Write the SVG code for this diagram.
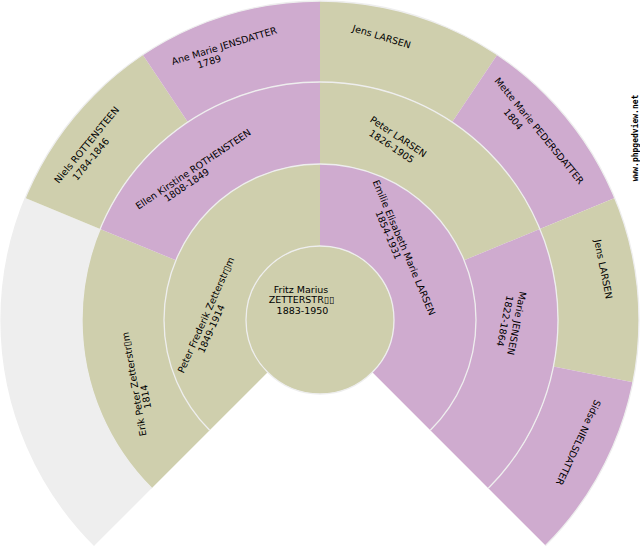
<svg xmlns="http://www.w3.org/2000/svg" width="640" height="550" viewBox="0 0 640 550">
<style>
.m{fill:#CFCFAD}
.f{fill:#CFABCF}
.u{fill:#EEEEEE}
.sep{fill:none;stroke:#EEEEEE;stroke-width:1.3}
text{font-family:"DejaVu Sans","Liberation Sans",sans-serif;font-size:9.5px;fill:#000;text-anchor:middle}
.wm{font-family:"DejaVu Sans Mono","Liberation Mono",monospace;font-size:8px;font-weight:bold}
</style>
<rect width="640" height="550" fill="#FFFFFF"/>
<g id="gen3">
<g id="unknown-8-9"><path class="u" d="M94.43 545.57 A319 319 0 0 1 25.28 197.93 L100.12 228.92 A238 238 0 0 0 151.71 488.29 Z"/></g>
<g id="niels"><path class="m" d="M25.28 197.93 A319 319 0 0 1 142.77 54.76 L187.77 122.11 A238 238 0 0 0 100.12 228.92 Z"/>
<text transform="translate(86.7 145) rotate(-50.6)" y="3.3">Niels ROTTENSTEEN</text>
<text transform="translate(90.8 159.2) rotate(-50.6)" y="3.3">1784-1846</text></g>
<g id="ane-marie"><path class="f" d="M142.77 54.76 A319 319 0 0 1 320 1 L320 82 A238 238 0 0 0 187.77 122.11 Z"/>
<text transform="translate(224.2 45.8) rotate(-16.9)" y="3.3">Ane Marie JENSDATTER</text>
<text transform="translate(209.2 61.7) rotate(-16.9)" y="3.3">1789</text></g>
<g id="jens-1"><path class="m" d="M320 1 A319 319 0 0 1 497.23 54.76 L452.23 122.11 A238 238 0 0 0 320 82 Z"/>
<text transform="translate(381.7 36.7) rotate(16.9)" y="3.3">Jens LARSEN</text></g>
<g id="mette-marie"><path class="f" d="M497.23 54.76 A319 319 0 0 1 614.72 197.93 L539.88 228.92 A238 238 0 0 0 452.23 122.11 Z"/>
<text transform="translate(539.2 130.8) rotate(50.6)" y="3.3">Mette Marie PEDERSDATTER</text>
<text transform="translate(513.3 119.2) rotate(50.6)" y="3.3">1804</text></g>
<g id="jens-2"><path class="m" d="M614.72 197.93 A319 319 0 0 1 632.87 382.23 L553.43 366.43 A238 238 0 0 0 539.88 228.92 Z"/>
<text transform="translate(603.3 269.2) rotate(78.75)" y="3.3">Jens LARSEN</text></g>
<g id="sidse"><path class="f" d="M632.87 382.23 A319 319 0 0 1 545.57 545.57 L488.29 488.29 A238 238 0 0 0 553.43 366.43 Z"/>
<text transform="translate(578.3 442.5) rotate(115)" y="3.3">Sidse NIELSDATTER</text></g>
</g>
<g id="gen2">
<g id="erik"><path class="m" d="M151.71 488.29 A238 238 0 0 1 100.12 228.92 L175.87 260.30 A156 156 0 0 0 209.69 430.31 Z"/>
<text transform="translate(134.2 384.2) rotate(-100)" y="3.3">Erik Peter Zetterstr▯m</text>
<text transform="translate(145.8 396.7) rotate(-100)" y="3.3">1814</text></g>
<g id="ellen"><path class="f" d="M100.12 228.92 A238 238 0 0 1 320 82 L320 164 A156 156 0 0 0 175.87 260.30 Z"/>
<text transform="translate(193.3 169.2) rotate(-33.75)" y="3.3">Ellen Kirstine ROTHENSTEEN</text>
<text transform="translate(186.7 185) rotate(-33.75)" y="3.3">1808-1849</text></g>
<g id="peter-larsen"><path class="m" d="M320 82 A238 238 0 0 1 539.88 228.92 L464.13 260.30 A156 156 0 0 0 320 164 Z"/>
<text transform="translate(398.3 136.7) rotate(33.75)" y="3.3">Peter LARSEN</text>
<text transform="translate(391.7 146.5) rotate(33.75)" y="3.3">1826-1905</text></g>
<g id="marie-jensen"><path class="f" d="M539.88 228.92 A238 238 0 0 1 488.29 488.29 L430.31 430.31 A156 156 0 0 0 464.13 260.30 Z"/>
<text transform="translate(516.7 323.3) rotate(101.25)" y="3.3">Marie JENSEN</text>
<text transform="translate(504.9 321) rotate(101.25)" y="3.3">1822-1864</text></g>
</g>
<g id="gen1">
<g id="peter-frederik"><path class="m" d="M209.69 430.31 A156 156 0 0 1 320 164 L320 246 A74 74 0 0 0 267.67 372.33 Z"/>
<text transform="translate(206 315) rotate(-66)" y="3.3">Peter Frederik Zetterstr▯m</text>
<text transform="translate(211.3 328.8) rotate(-66)" y="3.3">1849-1914</text></g>
<g id="emilie"><path class="f" d="M320 164 A156 156 0 0 1 430.31 430.31 L372.33 372.33 A74 74 0 0 0 320 246 Z"/>
<text transform="translate(404 247.5) rotate(67)" y="3.3">Emilie Elisabeth Marie LARSEN</text>
<text transform="translate(388.3 235) rotate(67)" y="3.3">1854-1931</text></g>
</g>
<g id="root"><circle class="m" cx="320" cy="320" r="74"/>
<text x="301" y="292.5">Fritz Marius</text>
<text x="301.5" y="303.3">ZETTERSTR▯▯</text>
<text x="302.5" y="314">1883-1950</text></g>
<g id="connectors">
<circle class="sep" cx="320" cy="320" r="74"/>
<path class="sep" d="M209.69 430.31 A156 156 0 1 1 430.31 430.31"/>
<path class="sep" d="M151.71 488.29 A238 238 0 1 1 488.29 488.29"/>
<path class="sep" d="M94.43 545.57 A319 319 0 1 1 545.57 545.57"/>
</g>
<text class="wm" transform="translate(637.5 138) rotate(-90)">www.phpgedview.net</text>
</svg>
